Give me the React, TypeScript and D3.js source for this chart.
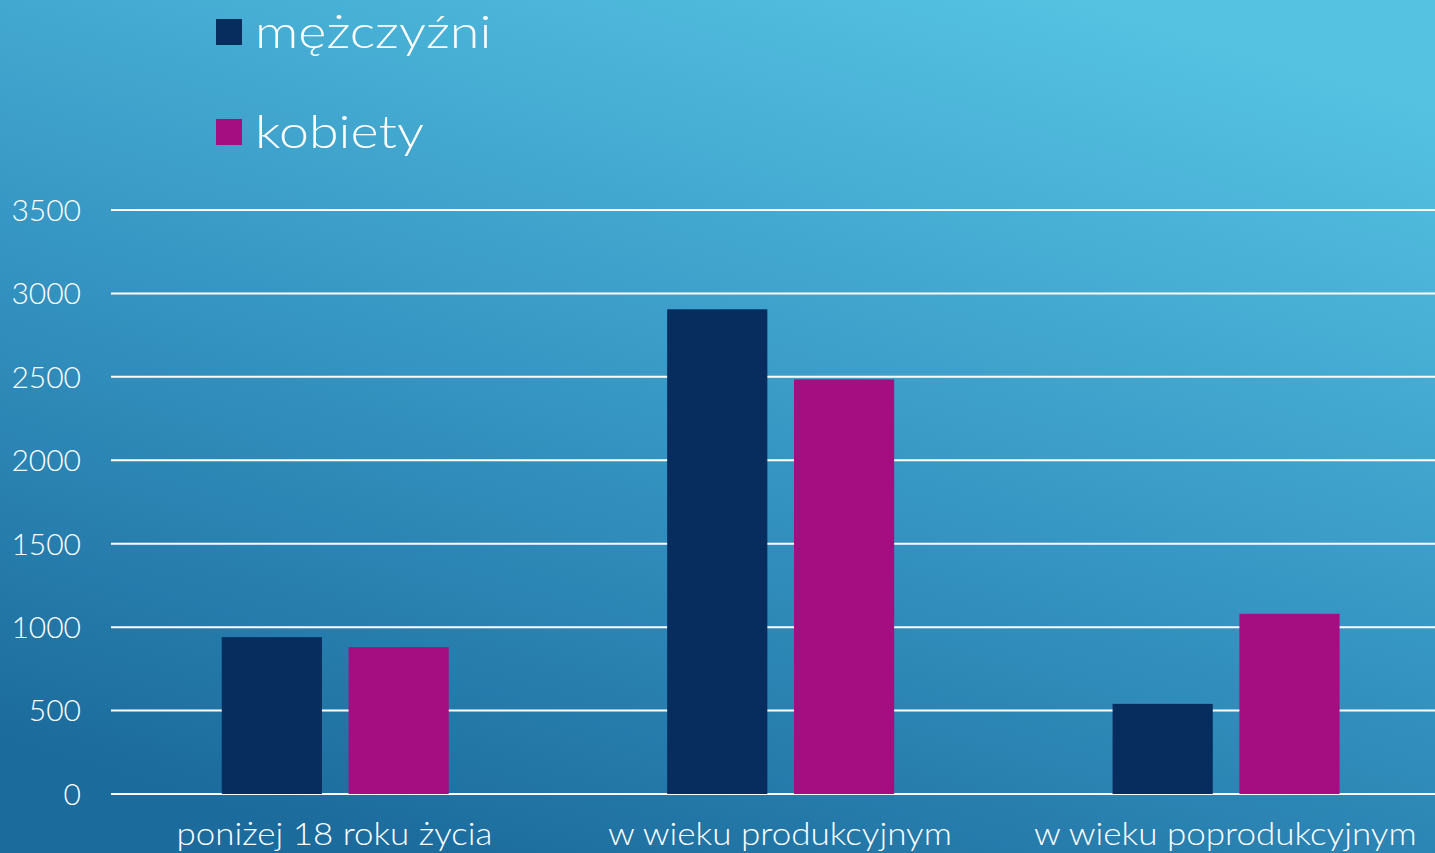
import React from "react";
import * as d3 from "d3";

const categories = ["poniżej 18 roku życia", "w wieku produkcyjnym", "w wieku poprodukcyjnym"];
const seriesNames = ["mężczyźni", "kobiety"];
const men = [940, 2905, 540];
const women = [880, 2485, 1080];
const yTicks = [0, 500, 1000, 1500, 2000, 2500, 3000, 3500];
const colors = ["#062d5e", "#a50e80"];

const W = 1435;
const H = 853;
const FONT = "Lato, 'Open Sans', sans-serif";
// Stretch factor to mimic the wide geometric font of the original
const labelStretch = 1.125;
const legendStretch = 1.17;

function useWidth() {
  const ctx = React.useMemo(() => document.createElement("canvas").getContext("2d"), []);
  return (text: string, size: number) => {
    if (!ctx) return text.length * size * 0.5;
    ctx.font = `300 ${size}px Lato`;
    return ctx.measureText(text).width;
  };
}

export default function App() {
  const measure = useWidth();
  const [, setReady] = React.useState(0);
  React.useEffect(() => {
    (document as any).fonts?.ready?.then(() => setReady(1));
  }, []);
  const x0 = d3.scaleBand<string>().domain(categories).range([111.75, 1448]).paddingInner(0).paddingOuter(0);
  const x1 = d3.scaleBand<string>().domain(seriesNames).range([110, 110 + 227]).paddingInner(0.21);
  const y = d3.scaleLinear().domain([0, 3500]).range([794, 210]);
  const values = [men, women];

  return (
    <div style={{ position: "absolute", left: 0, top: 0, width: W, height: H, overflow: "hidden" }}>
      <svg width={W} height={H} style={{ display: "block" }}>
        <defs>
          <linearGradient id="bg" x1="0.25" y1="1" x2="0.75" y2="0">
            <stop offset="0" stopColor="#1b6b9c" />
            <stop offset="0.5" stopColor="#3797c4" />
            <stop offset="1" stopColor="#55c2e2" />
          </linearGradient>
        </defs>
        <rect x={0} y={0} width={W} height={H} fill="url(#bg)" />
        {yTicks.map((t) => (
          <g key={t}>
            <line x1={111} x2={W} y1={y(t)} y2={y(t)} stroke="#ffffff" strokeWidth={2} />
            <text x={81} y={y(t)} dy="0.36em" textAnchor="end" fill="#ffffff" fontFamily={FONT} fontWeight={300} fontSize={30}>
              {t}
            </text>
          </g>
        ))}
        {categories.map((c, ci) => (
          <g key={c} transform={`translate(${x0(c)},0)`}>
            {seriesNames.map((s, si) => (
              <rect
                key={s}
                x={x1(s)}
                y={y(values[si][ci])}
                width={x1.bandwidth()}
                height={y(0) - y(values[si][ci])}
                fill={colors[si]}
              />
            ))}
            <text
              x={x0.bandwidth() / 2}
              y={845}
              textAnchor="middle"
              fill="#ffffff"
              fontFamily={FONT}
              fontWeight={300}
              fontSize={31}
              textLength={measure(c, 31) * labelStretch}
              lengthAdjust="spacingAndGlyphs"
            >
              {c}
            </text>
          </g>
        ))}
        {seriesNames.map((s, si) => (
          <g key={s} transform={`translate(216,${19 + si * 100})`}>
            <rect x={0} y={0} width={26} height={26} fill={colors[si]} />
            <text
              x={39}
              y={29}
              fill="#ffffff"
              fontFamily={FONT}
              fontWeight={300}
              fontSize={46}
              textLength={measure(s, 46) * legendStretch}
              lengthAdjust="spacingAndGlyphs"
            >
              {s}
            </text>
          </g>
        ))}
      </svg>
    </div>
  );
}
